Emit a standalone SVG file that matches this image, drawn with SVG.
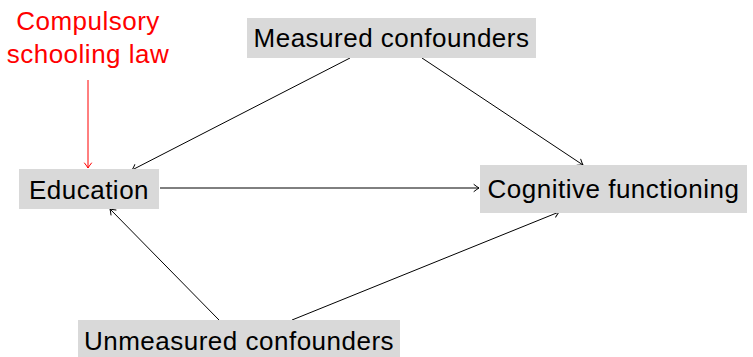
<svg xmlns="http://www.w3.org/2000/svg" width="753" height="357" viewBox="0 0 753 357">
  <style>
    .box { fill: #d9d9d9; }
    .lbl { font-family: "Liberation Sans", Arial, sans-serif; font-size: 26px; fill: #000; text-anchor: middle; letter-spacing: 0.5px; }
    .red { fill: #ff0000; }
    .edge { stroke: #000; stroke-width: 1; fill: none; marker-end: url(#tip); }
    .edge-red { stroke: #ff0000; stroke-width: 1; fill: none; marker-end: url(#tip-red); }
  </style>
  <defs>
    <marker id="tip" markerUnits="userSpaceOnUse" markerWidth="10" markerHeight="10" viewBox="-6 -5 7 10" refX="0" refY="0" orient="auto">
      <path d="M-5,-3.5 Q-1.5,-0.8 0,0 Q-1.5,0.8 -5,3.5" stroke="#000" stroke-width="1" fill="none" stroke-linecap="round"/>
    </marker>
    <marker id="tip-red" markerUnits="userSpaceOnUse" markerWidth="10" markerHeight="10" viewBox="-6 -5 7 10" refX="0" refY="0" orient="auto">
      <path d="M-5,-3.5 Q-1.5,-0.8 0,0 Q-1.5,0.8 -5,3.5" stroke="#ff0000" stroke-width="1" fill="none" stroke-linecap="round"/>
    </marker>
  </defs>

  <g id="edges">
    <line class="edge-red" x1="88" y1="80" x2="88" y2="168"/>
    <line class="edge" x1="350" y1="58" x2="132" y2="170"/>
    <line class="edge" x1="422" y1="58" x2="583" y2="165"/>
    <line class="edge" x1="160" y1="188" x2="479" y2="188"/>
    <line class="edge" x1="219" y1="320" x2="110" y2="209"/>
    <line class="edge" x1="292" y1="320" x2="559" y2="212"/>
  </g>

  <g id="instrument">
    <text class="lbl red" x="88" y="30">Compulsory</text>
    <text class="lbl red" x="88" y="63">schooling law</text>
  </g>

  <g id="measured">
    <rect class="box" x="247" y="18" width="289" height="40"/>
    <text class="lbl" x="391.5" y="47">Measured confounders</text>
  </g>

  <g id="education">
    <rect class="box" x="19" y="169" width="140" height="40"/>
    <text class="lbl" x="89" y="199">Education</text>
  </g>

  <g id="cognitive">
    <rect class="box" x="480" y="165" width="267" height="48"/>
    <text class="lbl" x="613.5" y="198">Cognitive functioning</text>
  </g>

  <g id="unmeasured">
    <rect class="box" x="78" y="320" width="322" height="40"/>
    <text class="lbl" x="239" y="350">Unmeasured confounders</text>
  </g>
</svg>
